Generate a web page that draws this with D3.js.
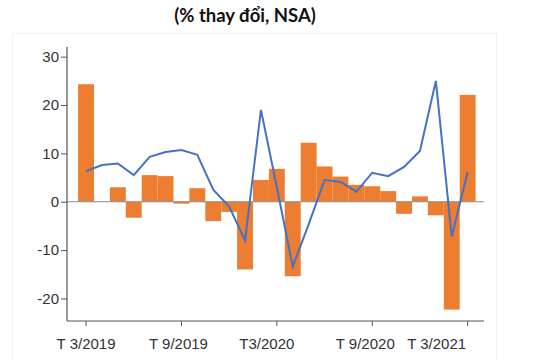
<!DOCTYPE html>
<html><head><meta charset="utf-8">
<script src="https://cdn.jsdelivr.net/npm/d3@7"></script>
<style>
html,body{margin:0;padding:0;background:#fff;}
svg{display:block;}
</style></head>
<body>
<svg id="chart" width="540" height="360"></svg>
<script>
const months = ["T3/2019","T4/2019","T5/2019","T6/2019","T7/2019","T8/2019","T9/2019","T10/2019","T11/2019","T12/2019",
  "T1/2020","T2/2020","T3/2020","T4/2020","T5/2020","T6/2020","T7/2020","T8/2020","T9/2020","T10/2020","T11/2020","T12/2020",
  "T1/2021","T2/2021","T3/2021"];
const barValues = [24.3, 0, 3.0, -3.3, 5.5, 5.3, -0.4, 2.8, -4.0, -2.1, -14.0, 4.5, 6.8, -15.4, 12.2, 7.3, 5.2, 3.5, 3.2, 2.2, -2.5, 1.1, -2.8, -22.3, 22.1];
const lineValues = [6.3, 7.6, 7.9, 5.5, 9.3, 10.3, 10.7, 9.7, 2.5, -1.0, -8.0, 19.0, 3.0, -13.4, -4.7, 4.5, 4.1, 2.1, 6.0, 5.3, 7.2, 10.5, 25.0, -7.2, 6.1];
const yTicks = [-20, -10, 0, 10, 20, 30];
const xTickMonths = ["T3/2019","T9/2019","T3/2020","T9/2020","T3/2021"];
const xTickLabels = ["T 3/2019","T 9/2019","T3/2020","T 9/2020","T 3/2021"];
const titleText = "(% thay đổi, NSA)";

const svg = d3.select("#chart");

// faint frame
svg.append("rect").attr("x",12.5).attr("y",33.5).attr("width",484).attr("height",330)
  .attr("fill","none").attr("stroke","#f2f2f2").attr("stroke-width",1);

svg.append("text").attr("x",245).attr("y",22).attr("text-anchor","middle")
  .attr("font-family","Lato, 'Open Sans', sans-serif").attr("font-weight","bold")
  .attr("font-size",18.5).attr("fill","#111").text(titleText);

const x = d3.scaleBand().domain(months).range([78.1, 475.6]).padding(0);
const y = d3.scaleLinear().domain([-24.6, 32]).range([320.7, 47]);

const axisX0 = 67, axisX1 = 484, axisYb = 321;

// bars
svg.append("g").selectAll("rect").data(barValues).join("rect")
  .attr("x",(d,i)=>x(months[i]))
  .attr("width",x.bandwidth())
  .attr("y",d=>y(Math.max(0,d)))
  .attr("height",d=>Math.abs(y(d)-y(0)))
  .attr("fill","#ED7D31");

// zero line
svg.append("line").attr("x1",axisX0).attr("x2",axisX1).attr("y1",y(0)).attr("y2",y(0))
  .attr("stroke","#8a8a8a").attr("stroke-width",1.2);

// line series
const line = d3.line().x((d,i)=>x(months[i])+x.bandwidth()/2).y(d=>y(d));
svg.append("path").datum(lineValues).attr("d",line)
  .attr("fill","none").attr("stroke","#4472C4").attr("stroke-width",2).attr("stroke-linejoin","miter");

// y axis
const yAxis = d3.axisLeft(y).tickValues(yTicks).tickSize(6).tickSizeOuter(0).tickFormat(d=>String(d));
const gy = svg.append("g").attr("transform",`translate(${axisX0},0)`).call(yAxis);
gy.select(".domain").attr("d",`M0,${y(32)}V${axisYb}`).attr("stroke","#555").attr("stroke-width",1.2);
gy.selectAll(".tick line").attr("stroke","#555");
gy.selectAll(".tick text").attr("font-family","'Liberation Sans', Arial, sans-serif").attr("font-size",15).attr("fill","#333").attr("x",-8);

// x axis
const xPos = d3.scaleOrdinal().domain(xTickMonths).range(xTickLabels);
const xAxis = d3.axisBottom(x).tickValues(xTickMonths).tickSize(5).tickSizeOuter(0).tickFormat(d=>xPos(d));
const gx = svg.append("g").attr("transform",`translate(0,${axisYb})`).call(xAxis);
gx.select(".domain").attr("d",`M${axisX0},0H${axisX1}`).attr("stroke","#555").attr("stroke-width",1.2);
gx.selectAll(".tick line").attr("stroke","#555");
const labelShift = [0,-3,-10,-7,-31];
gx.selectAll(".tick text").attr("font-family","'Liberation Sans', Arial, sans-serif").attr("font-size",15).attr("fill","#333")
  .attr("y",17).attr("dx",(d,i)=>labelShift[i]);
</script>
</body></html>
